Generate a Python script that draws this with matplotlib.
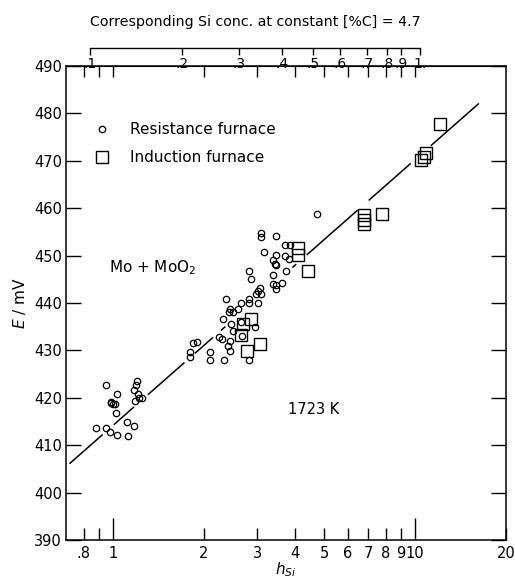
import numpy as np
import matplotlib.pyplot as plt

# Resistance furnace points (hSi, E / mV)
res_h = [0.877, 0.953, 0.953, 0.978, 1.033, 0.983, 0.990, 1.000, 1.015, 1.028,
         1.033, 1.114, 1.120, 1.172, 1.202, 1.193, 1.172, 1.208, 1.218, 1.181,
         1.246,
         1.801, 1.801, 1.846, 1.894, 2.096, 2.096, 2.335, 2.244, 2.300, 2.439,
         2.407, 2.439, 2.823, 2.318, 2.469, 2.500, 2.683, 2.651, 2.947, 2.377,
         2.663, 2.597, 2.500, 2.439, 2.420, 2.823, 2.823, 3.022, 3.062, 3.022,
         3.084, 2.984, 2.823, 2.872, 3.098, 3.098, 3.162, 3.471, 3.700, 3.860,
         3.471, 3.700, 3.842, 3.385, 3.429, 3.471, 3.745, 3.385, 3.385, 3.455,
         3.455, 3.624, 4.73]
res_E = [413.7, 422.8, 413.7, 412.8, 420.9, 419.1, 418.9, 418.7, 418.7, 416.7,
         412.1, 414.8, 411.9, 414.0, 423.6, 422.6, 421.7, 420.9, 420.0, 419.4,
         420.0,
         429.6, 428.7, 431.5, 431.7, 429.6, 428.0, 428.0, 432.8, 432.4, 431.9,
         431.0, 429.8, 428.0, 436.6, 435.6, 434.0, 433.1, 435.9, 434.9, 440.8,
         439.9, 438.7, 438.2, 438.7, 438.0, 440.8, 439.9, 440.1, 443.1, 442.6,
         442.0, 441.9, 446.7, 445.0, 454.8, 453.9, 450.8, 454.1, 452.2, 452.2,
         450.1, 449.9, 449.2, 449.0, 448.2, 448.0, 446.8, 445.9, 444.0, 443.8,
         442.9, 444.3, 458.8]

# Induction furnace points
ind_h = [4.090, 4.112, 4.413, 2.859, 2.698, 2.663, 2.787, 3.068,
         6.78, 6.78, 6.78, 7.79, 10.46, 10.68, 10.89, 12.11]
ind_E = [451.5, 450.2, 446.8, 436.6, 435.5, 433.3, 429.8, 431.3,
         458.5, 457.6, 456.7, 458.8, 470.2, 470.7, 471.6, 477.8]

# Fitted line: its two ends and the stretches where it is broken off
line_h = [0.722, 16.2]
line_E = [406.2, 482.0]
line_gaps = [(0.922, 1.01), (1.172, 1.306), (1.726, 1.869), (2.147, 2.278),
             (2.349, 3.94), (4.04, 4.38), (6.45, 7.04), (9.65, 11.29)]

# Top scale: Si conc. and the hSi each value sits at
si_labels = ['.1', '.2', '.3', '.4', '.5', '.6', '.7', '.8', '.9', '1.']
si_at_h = [0.840, 1.699, 2.617, 3.624, 4.584, 5.667, 6.953, 8.089, 8.994, 10.39]

x_major = [1, 10]
x_minor = [0.8, 0.9, 2, 3, 4, 5, 6, 7, 8, 9, 20]
x_minor_labels = ['.8', '', '2', '3', '4', '5', '6', '7', '8', '9', '20']
frame_top_ticks = [0.8, 0.9, 1, 2, 3, 4, 5, 6, 7, 8, 9, 10]
e_ticks = list(range(390, 491, 10))

fig = plt.figure(figsize=(5.15, 5.78), dpi=100)
ax = fig.add_axes([66 / 515, 1 - 540 / 578, 440 / 515, 474 / 578])

ax.set_xscale('log')
ax.set_xlim(0.70, 20)
ax.set_ylim(390, 490)

# line with its gaps
hh = np.geomspace(line_h[0], line_h[1], 600)
slope = (line_E[1] - line_E[0]) / np.log10(line_h[1] / line_h[0])
ee = line_E[0] + slope * np.log10(hh / line_h[0])
for a, b in line_gaps:
    ee[(hh > a) & (hh < b)] = np.nan
ax.plot(hh, ee, color='black', lw=1.1)

ax.plot(res_h, res_E, 'o', ms=4.6, mfc='none', mec='black', mew=0.9,
        label='Resistance furnace')
ax.plot(ind_h, ind_E, 's', ms=8, mfc='none', mec='black', mew=1.0,
        label='Induction furnace')

# bottom ticks
ax.set_xticks(x_major)
ax.set_xticklabels(['1', '10'])
ax.set_xticks(x_minor, minor=True)
ax.set_xticklabels(x_minor_labels, minor=True)
ax.tick_params(axis='x', which='major', direction='in', length=16, width=1,
               labelsize=10.5, pad=4)
ax.tick_params(axis='x', which='minor', direction='in', length=9, width=1,
               labelsize=10.5, pad=4)

# y ticks on both sides
ax.set_yticks(e_ticks)
ax.tick_params(axis='y', direction='in', length=11, width=1, labelsize=10.5,
               right=True, pad=3)

for s in ax.spines.values():
    s.set_linewidth(1.1)

# ticks along the top of the frame
top = ax.secondary_xaxis('top')
top.set_xticks(frame_top_ticks)
top.xaxis.set_minor_locator(plt.NullLocator())
top.tick_params(direction='in', length=8, width=1, labeltop=False)

# separate Si scale above the frame
si = ax.secondary_xaxis(1.037)
si.set_alignment('bottom')
si.set_xticks(si_at_h)
si.set_xticklabels(si_labels)
si.xaxis.set_minor_locator(plt.NullLocator())
si.tick_params(direction='out', length=5, width=1, labelsize=10, pad=1)
si.spines['bottom'].set_bounds(si_at_h[0], si_at_h[-1])
si.spines['bottom'].set_linewidth(1.0)

ax.text(np.sqrt(si_at_h[0] * si_at_h[-1]), 1.093,
        'Corresponding Si conc. at constant [%C] = 4.7',
        transform=ax.get_xaxis_transform(), ha='center', va='center',
        fontsize=10.2)

ax.set_xlabel('$h_{Si}$', fontsize=11, labelpad=0)
ax.set_ylabel('$E$ / mV', fontsize=11, labelpad=4)

ax.legend(loc='upper left', bbox_to_anchor=(0.065, 0.882), frameon=False,
          handlelength=1.0, handletextpad=1.3, borderpad=0, borderaxespad=0,
          labelspacing=0.85, fontsize=11)

ax.text(0.97, 447.4, 'Mo + MoO$_2$', fontsize=11, va='center')
ax.text(3.79, 417.5, '1723 K', fontsize=10.5, va='center')

fig.savefig('out.png', dpi=100)
